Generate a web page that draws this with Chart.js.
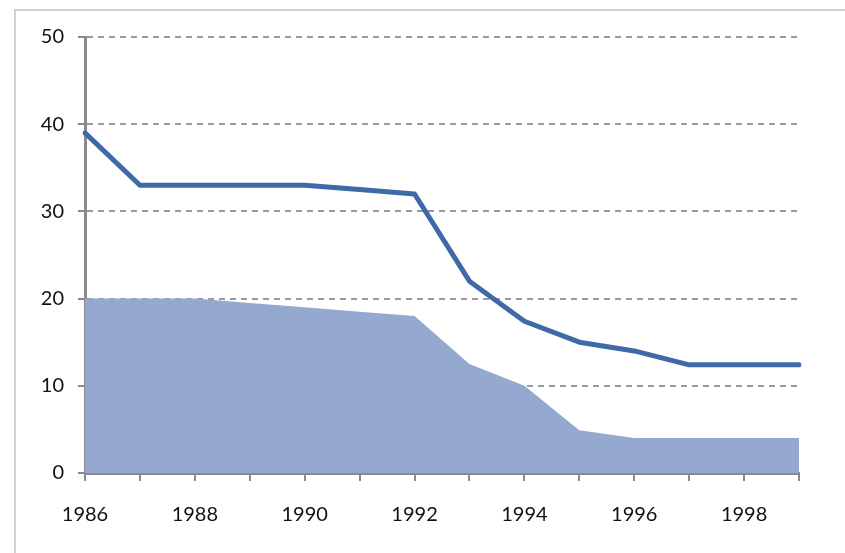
<!DOCTYPE html>
<html>
<head>
<meta charset="utf-8">
<script src="https://cdn.jsdelivr.net/npm/chart.js@4"></script>
<style>
  html, body { margin: 0; padding: 0; background: #fff; }
  #wrap { position: relative; width: 845px; height: 553px; overflow: hidden; }
  #frame { position: absolute; left: 14px; top: 9px; width: 900px; height: 700px;
           border-left: 2px solid #d0d0d0; border-top: 2px solid #d0d0d0; box-sizing: border-box; }
  canvas { position: absolute; left: 0; top: 0; }
</style>
</head>
<body>
<div id="wrap">
  <div id="frame"></div>
  <canvas id="c" width="845" height="553"></canvas>
</div>
<script>
const years = ["1986","1987","1988","1989","1990","1991","1992","1993","1994","1995","1996","1997","1998","1999"];
const lineValues = [39, 33, 33, 33, 33, 32.5, 32, 22, 17.4, 15, 14, 12.4, 12.4, 12.4];
const areaValues = [20, 20, 20, 19.5, 19, 18.5, 18, 12.5, 10, 4.9, 4, 4, 4, 4];
const yTicks = [0, 10, 20, 30, 40, 50];

const fontSpec = { family: "Lato, 'Open Sans', sans-serif", size: 20 };

new Chart(document.getElementById('c'), {
  type: 'line',
  data: {
    labels: years,
    datasets: [
      {
        data: lineValues,
        borderColor: '#3F6AA8',
        borderWidth: 5,
        pointRadius: 0,
        fill: false,
        tension: 0,
        borderCapStyle: 'round',
        borderJoinStyle: 'round',
        order: 0
      },
      {
        data: areaValues,
        borderWidth: 0,
        borderColor: 'rgba(0,0,0,0)',
        backgroundColor: '#95A9D0',
        pointRadius: 0,
        fill: 'origin',
        tension: 0,
        order: 1
      }
    ]
  },
  options: {
    responsive: false,
    animation: false,
    events: [],
    layout: { padding: { left: 0, right: 46, top: 37, bottom: 0 } },
    plugins: { legend: { display: false }, tooltip: { enabled: false } },
    scales: {
      x: {
        type: 'category',
        offset: false,
        afterFit: (s) => { s.height = 80; },
        border: { color: '#8a8a8a', width: 3 },
        grid: { drawOnChartArea: false, drawTicks: true, tickLength: 8, tickColor: '#8a8a8a', lineWidth: 2 },
        ticks: {
          autoSkip: false, maxRotation: 0, padding: 22,
          color: '#111', font: fontSpec,
          callback: function(v, i) { const y = years[i]; return (parseInt(y) % 2 === 0) ? y : ''; }
        }
      },
      y: {
        min: 0, max: 50,
        afterFit: (s) => { s.width = 85; },
        afterBuildTicks: (s) => { s.ticks = yTicks.map(v => ({ value: v })); },
        border: { color: '#8a8a8a', width: 3, dash: [6, 5] },
        grid: {
          drawTicks: true, tickLength: 7, tickColor: '#8a8a8a', tickBorderDash: [], tickWidth: 2,
          color: (ctx) => ctx.tick && ctx.tick.value === 0 ? 'rgba(0,0,0,0)' : '#9a9a9a',
          lineWidth: 2
        },
        ticks: { padding: 14, color: '#111', font: fontSpec }
      }
    }
  }
});
</script>
</body>
</html>
